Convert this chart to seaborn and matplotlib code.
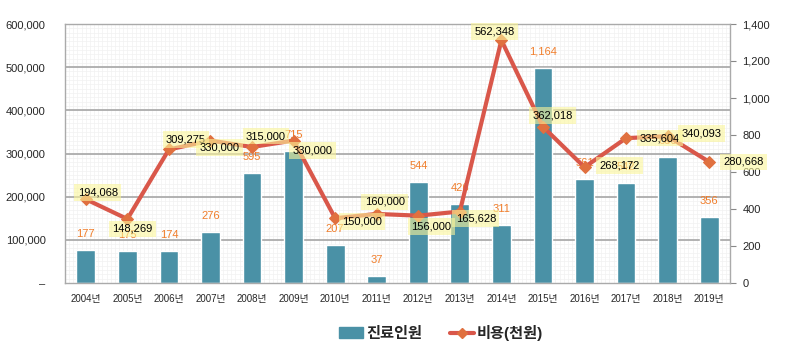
# -*- coding: utf-8 -*-
# bar + line combo: 진료인원 (right axis) and 비용(천원) (left axis)

import numpy as np
import pandas as pd
import matplotlib
matplotlib.use("Agg")
import matplotlib.pyplot as plt
import seaborn as sns
from matplotlib.patches import Patch
from matplotlib.lines import Line2D

# ------------------------
# data
# ------------------------
years = ["2004년", "2005년", "2006년", "2007년", "2008년", "2009년", "2010년", "2011년",
         "2012년", "2013년", "2014년", "2015년", "2016년", "2017년", "2018년", "2019년"]
patients = [177, 175, 174, 276, 595, 715, 207, 37, 544, 426, 311, 1164, 561, 542, 680, 356]
costs = [194068, 148269, 309275, 330000, 315000, 330000, 150000, 160000,
         156000, 165628, 562348, 362018, 268172, 335604, 340093, 280668]

# label offsets (pixels) for the cost labels
cost_offsets = [(12, 7), (5, -10), (17, 10), (9, -7), (14, 11), (19, -10), (27, -3), (8, 12),
                (13, -11), (16, -7), (-7, 9), (10, 11), (35, 2), (34, 0), (34, 3), (34, 0)]

df = pd.DataFrame({"year": years, "patients": patients, "costs": costs})

# ------------------------
# style
# ------------------------
sns.set_style("white")
plt.rcParams['font.family'] = ['Liberation Sans', 'Noto Sans CJK KR', 'DejaVu Sans']

BAR_COLOR = "#4a91a6"
LINE_COLOR = "#d9574a"
MARK_COLOR = "#e0703f"
LABEL_ORANGE = "#f07d2a"

fig = plt.figure(figsize=(7.89, 3.59), dpi=100)
ax = fig.add_axes([65 / 789, 76 / 359, 665 / 789, 259 / 359])
ax.set_facecolor("white")

# fine background texture
for yy in np.arange(0, 1400, 1400 / 60):
    ax.axhline(yy, color="#f1f1f1", lw=0.5, zorder=0)
for xx in np.arange(-0.5, 15.5, 0.1):
    ax.axvline(xx, color="#f1f1f1", lw=0.5, zorder=0)
# major grid lines (left-axis steps of 100,000)
for k in range(1, 7):
    ax.axhline(1400 * k / 6, color="#a6a6a6", lw=1.2, zorder=0.5)

sns.barplot(data=df, x="year", y="patients", ax=ax, color=BAR_COLOR, width=0.45,
            saturation=1, zorder=2)
ax.set_xlim(-0.5, 15.5)
ax.set_ylim(0, 1400)

for i, v in enumerate(patients):
    ax.annotate(f"{v:,}", (i, v), xytext=(0, 11), textcoords="offset pixels",
                ha="center", va="bottom", fontsize=8, color=LABEL_ORANGE, zorder=3)

ax.set_xlabel("")
ax.set_ylabel("")
for s in ax.spines.values():
    s.set_color("#aaaaaa")
    s.set_linewidth(1)

# line axis (left)
ax2 = ax.twinx()
sns.lineplot(data=df, x="year", y="costs", ax=ax2, color=LINE_COLOR, lw=3,
             marker="D", markersize=6, markerfacecolor=MARK_COLOR,
             markeredgecolor=MARK_COLOR, sort=False, zorder=3)
ax2.set_ylim(0, 600000)
ax2.set_xlim(-0.5, 15.5)
ax2.yaxis.tick_left()
ax2.yaxis.set_label_position("left")
ax2.set_yticks(np.arange(0, 600001, 100000))
ax2.set_yticklabels(["–"] + [f"{int(t):,}" for t in np.arange(100000, 600001, 100000)])
ax2.tick_params(axis="y", length=0, labelsize=8, pad=14, left=True, right=False,
                labelleft=True, labelright=False)
ax2.set_ylabel("")
ax2.set_xlabel("")
for s in ax2.spines.values():
    s.set_visible(False)

# bar axis ticks on the right (twinx moved them left)
ax.yaxis.tick_right()
ax.set_yticks(np.arange(0, 1401, 200))
ax.set_yticklabels([f"{int(t):,}" for t in np.arange(0, 1401, 200)])
ax.tick_params(axis="y", direction="out", length=4, width=0.8, color="#888888",
               labelsize=8, pad=5, right=True, left=False, labelright=True, labelleft=False)
ax.tick_params(axis="x", length=0, labelsize=7, pad=8)
for lab in ax.get_xticklabels():
    lab.set_fontstretch("condensed")

for i, (v, off) in enumerate(zip(costs, cost_offsets)):
    ax2.annotate(f"{v:,}", (i, v), xytext=off, textcoords="offset pixels",
                 ha="center", va="center", fontsize=8, color="black", zorder=5,
                 bbox=dict(boxstyle="square,pad=0.3", fc="#fbf59a", ec="none", alpha=0.6))

# legend
handles = [Patch(facecolor=BAR_COLOR, edgecolor=BAR_COLOR),
           Line2D([0], [0], color=LINE_COLOR, lw=3, marker="D", markersize=5,
                  markerfacecolor=MARK_COLOR, markeredgecolor=MARK_COLOR)]
fig.legend(handles, ["진료인원", "비용(천원)"], loc="center", bbox_to_anchor=(441 / 789, 1 - 333 / 359),
           ncol=2, frameon=False, handlelength=1.6, handletextpad=0.2,
           columnspacing=1.8, prop={"size": 11, "weight": "bold"})

fig.savefig("out.png", dpi=100)
